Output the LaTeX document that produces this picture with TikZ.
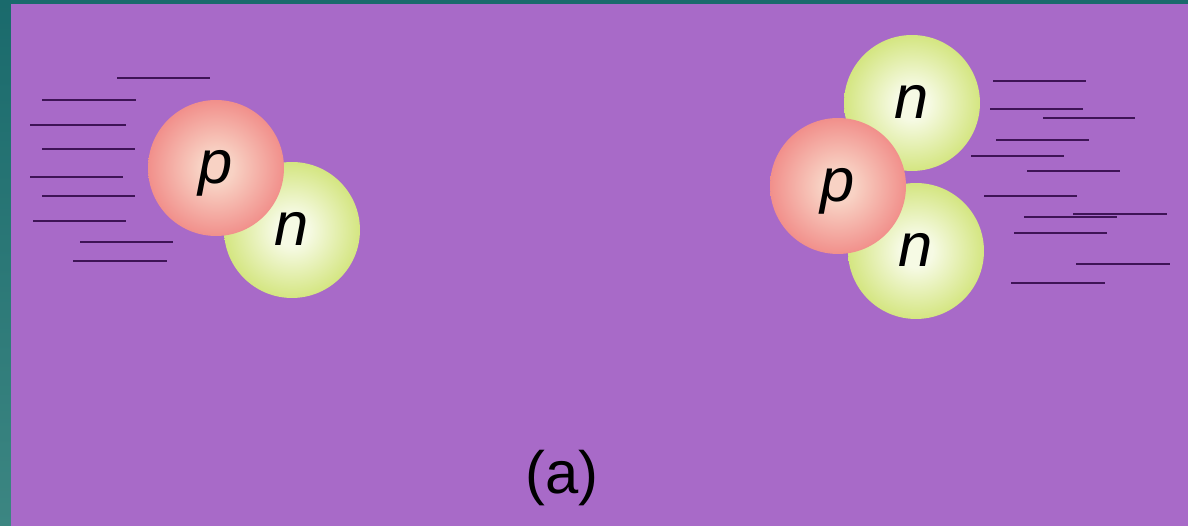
\documentclass[tikz,border=0pt]{standalone}
\usepackage{fontspec}
\setmainfont{Liberation Sans}
\definecolor{bgpurple}{HTML}{A86AC8}
\definecolor{frametop}{HTML}{1A6A6C}
\definecolor{framebot}{HTML}{3C8682}
\definecolor{trail}{HTML}{3E1456}
\definecolor{pout}{HTML}{EE7070}
\definecolor{pin}{HTML}{F8D2C4}
\definecolor{nout}{HTML}{C4DC52}
\definecolor{nin}{HTML}{F6FAE4}
\pgfdeclareradialshading{protonball}{\pgfpoint{0bp}{0bp}}{color(0bp)=(pin); color(6bp)=(pin); color(34bp)=(pout); color(50bp)=(pout)}
\pgfdeclareradialshading{neutronball}{\pgfpoint{0bp}{0bp}}{color(0bp)=(nin); color(6bp)=(nin); color(34bp)=(nout); color(50bp)=(nout)}
\tikzset{
  ball/.style={circle, minimum size=2.72cm, inner sep=0pt,
    text height=18pt, text depth=0pt,
    font=\fontsize{35}{40}\selectfont\itshape},
  proton/.style={ball, shading=protonball},
  neutron/.style={ball, shading=neutronball},
  trailline/.style={draw=trail, line width=1.4pt}
}
\begin{document}
\begin{tikzpicture}[x=0.02cm, y=-0.02cm]
  % frame and background
  \useasboundingbox (0,0) rectangle (1188,526);
  \shade[top color=frametop, bottom color=framebot] (0,0) rectangle (1188,526);
  \fill[bgpurple] (11,4) rectangle (1188,526);

  % deuteron: motion trail
  \foreach \ya/\xa/\xb in {78/117/210, 100/42/136, 125/30/126, 149/42/135,
      177/30/123, 196/42/135, 221/33/126, 242/80/173, 261/73/167}{
    \coordinate (ls\ya) at (\xa,\ya);
    \coordinate (le\ya) at (\xb,\ya);
    \draw[trailline] (ls\ya) -- (le\ya);
  }
  % deuteron: nucleons
  \node[neutron] (n1) at (292,230) {n};
  \node[proton]  (p1) at (216,168) {p};

  % triton: motion trail
  \foreach \ya/\xa/\xb in {81/993/1086, 109/990/1083, 118/1043/1135, 140/996/1089,
      156/971/1064, 171/1027/1120, 196/984/1077, 214/1073/1167, 217/1024/1117,
      233/1014/1107, 264/1076/1170, 283/1011/1105}{
    \coordinate (rs\ya) at (\xa,\ya);
    \coordinate (re\ya) at (\xb,\ya);
    \draw[trailline] (rs\ya) -- (re\ya);
  }
  % triton: nucleons
  \node[neutron] (n2) at (912,103) {n};
  \node[neutron] (n3) at (916,251) {n};
  \node[proton]  (p2) at (838,186) {p};

  % caption
  \node[font=\fontsize{34}{40}\selectfont] (cap) at (562,478) {(a)};
\end{tikzpicture}
\end{document}
